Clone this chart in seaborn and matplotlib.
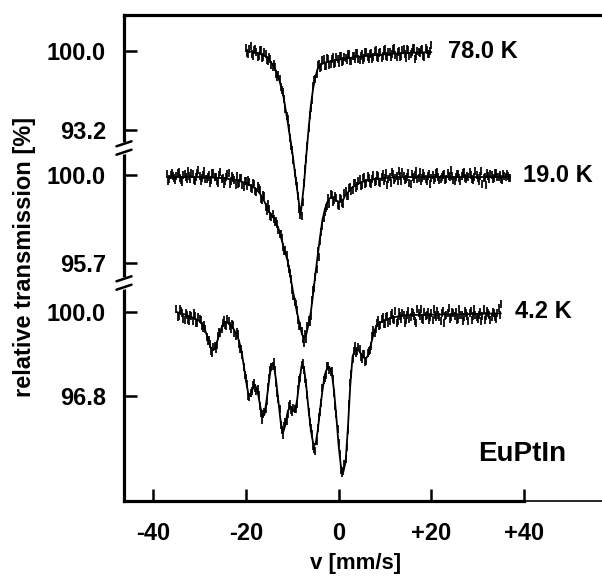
import numpy as np
import pandas as pd
import matplotlib
matplotlib.use("Agg")
import matplotlib.pyplot as plt
import matplotlib.transforms as mtransforms
import seaborn as sns

# velocity channels (mm/s) of the three spectra; the "b" grids sit half a step in between
V78 = np.arange(-20.0, 20.01, 0.5)
V78b = np.arange(-19.75, 19.76, 0.5)
V19 = np.arange(-37.0, 37.01, 0.5)
V19b = np.arange(-36.75, 36.76, 0.5)
V4 = np.arange(-35.0, 35.01, 0.5)
V4b = np.arange(-34.75, 34.76, 0.5)

T78 = [100.3, 99.7, 100.4, 99.6, 100.2, 99.5, 100.1, 99.4, 99.9, 99.2,
       99.5, 98.8, 98.9, 98.0, 97.9, 96.9, 96.5, 95.0, 94.1, 92.5,
       91.5, 89.5, 88.4, 86.4, 85.8, 88.6, 90.7, 93.4, 95.1, 97.0,
       97.6, 98.8, 98.5, 99.2, 98.7, 99.4, 98.8, 99.3, 98.9, 99.5,
       99.0, 99.6, 99.1, 99.4, 99.7, 99.1, 99.6, 99.3, 99.8, 99.2,
       99.7, 99.4, 99.9, 99.3, 99.8, 99.5, 100.1, 99.4, 99.9, 99.6,
       100.2, 99.5, 99.9, 99.7, 100.3, 99.5, 100.0, 99.6, 100.2, 99.4,
       100.1, 99.7, 100.3, 99.3, 100.0, 99.8, 100.2, 99.5, 100.1, 99.7,
       100.5]
T78b = [99.8, 100.2, 99.7, 100.1, 99.9, 99.55, 100.05, 99.5, 99.75, 99.1,
        99.3, 98.6, 98.6, 97.8, 97.6, 96.6, 95.9, 94.4, 93.4, 91.8,
        90.6, 88.8, 87.5, 85.9, 87.0, 89.8, 91.8, 94.5, 95.8, 97.5,
        98.0, 98.9, 98.6, 99.3, 98.75, 99.35, 98.9, 99.45, 99.0, 99.35,
        99.6, 99.05, 99.5, 99.2, 99.75, 99.15, 99.55, 99.85, 99.3, 99.6,
        99.25, 99.9, 99.45, 99.7, 99.35, 100.0, 99.5, 99.85, 99.4, 100.05,
        99.6, 99.9, 99.45, 100.15, 99.65, 99.95, 99.5, 100.1, 99.7, 100.2,
        99.6, 99.9, 100.25, 99.55, 99.95, 100.1, 99.6, 100.3, 99.75, 100.0]

T19 = [100.05, 99.8, 100.1, 99.85, 99.95, 100.15, 99.75, 100.0, 99.9, 100.2,
       99.8, 100.05, 99.7, 100.1, 99.95, 99.85, 100.2, 99.8, 100.0, 99.75,
       100.1, 99.9, 99.6, 100.15, 99.85, 99.7, 100.05, 99.55, 99.95, 99.75,
       99.95, 99.6, 99.85, 99.4, 99.7, 99.75, 99.35, 99.6, 99.2, 99.45,
       99.25, 98.8, 98.95, 98.25, 98.35, 97.95, 97.85, 97.75, 97.3, 97.1,
       96.5, 96.35, 95.7, 95.2, 94.4, 93.8, 93.4, 92.6, 92.4, 91.8,
       92.0, 92.9, 93.1, 94.4, 95.0, 96.3, 96.8, 97.5, 98.2, 98.5,
       98.6, 99.0, 98.8, 98.9, 98.5, 98.85, 98.6, 99.2, 98.95, 99.4,
       99.25, 99.6, 99.45, 99.8, 99.5, 99.9, 99.6, 99.85, 99.55, 100.0,
       99.7, 99.95, 99.6, 100.05, 99.85, 99.5, 99.9, 100.15, 99.75, 99.95,
       100.2, 99.7, 99.95, 99.8, 100.1, 99.55, 99.9, 100.0, 99.8, 100.15,
       99.85, 99.95, 99.7, 100.05, 99.85, 99.75, 100.1, 99.9, 99.8, 100.0,
       99.75, 100.1, 99.9, 99.95, 99.7, 100.05, 99.85, 99.95, 100.15, 99.8,
       99.9, 100.0, 99.75, 100.2, 99.85, 99.95, 99.55, 99.9, 100.1, 99.8,
       100.0, 99.85, 100.1, 99.9, 99.8, 100.05, 99.9, 99.95, 99.85]
T19b = [99.7, 100.0, 99.95, 99.75, 100.1, 99.85, 99.65, 100.05, 99.8, 99.95,
        100.1, 99.75, 99.9, 100.25, 99.7, 100.0, 99.8, 99.9, 99.6, 100.1,
        99.9, 99.7, 100.0, 99.8, 99.55, 99.9, 100.1, 99.7, 99.85, 99.5,
        99.55, 99.85, 99.5, 99.7, 99.45, 99.65, 99.3, 99.55, 99.15, 99.35,
        98.85, 99.0, 98.45, 98.6, 98.0, 98.1, 97.7, 97.6, 97.1, 96.9,
        96.3, 96.1, 95.4, 94.9, 94.1, 93.7, 92.9, 92.6, 92.0, 92.25,
        92.6, 92.8, 93.9, 94.5, 95.4, 96.0, 97.2, 97.9, 98.4, 98.9,
        99.05, 98.7, 98.95, 98.55, 98.9, 98.65, 99.1, 98.95, 99.35, 99.2,
        99.6, 99.35, 99.7, 99.45, 99.85, 99.55, 99.95, 99.6, 99.8, 99.65,
        100.0, 99.65, 99.9, 99.7, 100.1, 99.8, 99.6, 100.05, 99.85, 99.7,
        99.95, 100.15, 99.75, 99.9, 99.6, 100.05, 99.8, 100.2, 99.85, 99.7,
        100.1, 99.8, 99.95, 99.55, 100.0, 99.85, 100.15, 99.75, 99.9, 100.05,
        99.8, 99.95, 100.25, 99.75, 99.9, 100.05, 99.7, 100.1, 99.85, 99.95,
        100.15, 99.8, 99.9, 100.0, 99.7, 100.2, 99.85, 99.5, 99.95, 100.05,
        99.8, 100.1, 99.9, 100.0, 99.75, 99.95, 100.05, 99.85]

T4 = [100.1, 99.85, 100.05, 99.75, 99.95, 99.7, 99.9, 99.65, 99.85, 99.6,
      99.75, 99.45, 99.5, 99.05, 98.95, 98.5, 98.65, 98.6, 99.1, 99.2,
      99.6, 99.5, 99.75, 99.45, 99.55, 99.2, 99.25, 98.8, 98.6, 97.9,
      97.5, 96.8, 96.9, 97.2, 97.1, 97.05, 96.4, 95.9, 96.2, 96.6,
      97.5, 97.9, 98.1, 97.3, 96.7, 95.7, 95.3, 95.8, 96.1, 96.5,
      96.2, 96.3, 96.5, 97.4, 98.0, 97.8, 97.3, 96.2, 95.6, 94.9,
      94.7, 95.6, 96.2, 97.1, 97.5, 97.95, 97.8, 97.75, 96.9, 96.1,
      95.0, 94.0, 93.95, 94.4, 95.5, 97.3, 98.2, 98.7, 98.5, 98.6,
      98.2, 98.4, 98.15, 98.5, 98.7, 99.3, 99.35, 99.7, 99.5, 99.8,
      99.55, 99.85, 99.65, 99.95, 99.7, 99.6, 100.0, 99.75, 99.9, 99.7,
      100.05, 99.8, 99.95, 99.65, 100.1, 99.85, 99.75, 100.0, 99.9, 99.7,
      99.95, 100.1, 99.8, 99.9, 99.65, 100.05, 99.85, 99.95, 99.75, 100.0,
      99.85, 99.7, 100.1, 99.9, 99.8, 99.95, 99.65, 100.05, 99.85, 99.9,
      99.75, 100.0, 99.85, 99.7, 100.05, 99.9, 99.8, 99.95, 99.75, 100.15,
      100.3]
T4b = [99.8, 100.1, 99.95, 99.7, 99.9, 99.65, 99.85, 99.95, 99.6, 99.8,
       99.7, 99.4, 99.35, 98.9, 98.8, 98.45, 98.7, 98.75, 99.25, 99.35,
       99.7, 99.45, 99.65, 99.35, 99.5, 99.1, 99.15, 98.6, 98.35, 97.6,
       97.25, 96.75, 97.0, 97.3, 97.0, 96.85, 96.15, 96.1, 96.3, 97.15,
       97.8, 97.95, 97.8, 96.9, 96.3, 95.5, 95.65, 95.85, 96.4, 96.25,
       96.35, 96.3, 97.05, 97.5, 98.05, 97.45, 96.85, 95.8, 95.35, 94.8,
       95.1, 96.0, 96.55, 97.4, 97.6, 97.95, 97.7, 97.45, 96.4, 95.55,
       94.6, 93.85, 94.2, 94.85, 96.5, 97.65, 98.5, 98.45, 98.65, 98.3,
       98.4, 98.1, 98.45, 98.55, 99.1, 99.2, 99.6, 99.45, 99.75, 99.55,
       99.8, 99.6, 99.9, 99.75, 100.05, 99.65, 99.85, 99.95, 99.6, 99.9,
       99.75, 100.0, 99.85, 99.6, 99.95, 100.1, 99.7, 99.85, 100.0, 99.8,
       99.7, 99.9, 100.05, 99.8, 99.95, 99.6, 99.9, 100.15, 99.8, 99.95,
       100.0, 99.75, 99.9, 99.65, 100.05, 99.85, 99.95, 99.7, 100.1, 99.8,
       99.9, 99.65, 100.1, 99.85, 99.95, 99.7, 100.0, 99.8, 99.95, 99.9]

# fitted curves (v, T)
FIT78 = [(-20, 100.0), (-18, 99.9), (-16, 99.6), (-15, 99.25), (-14, 98.7),
         (-13, 97.75), (-12, 96.3), (-11, 93.9), (-10, 91.3), (-9.5, 89.7),
         (-9, 88.2), (-8.5, 86.7), (-8.2, 85.9), (-7.5, 88.4), (-7, 90.9),
         (-6.5, 93.2), (-6, 95.3), (-5.5, 96.8), (-5, 97.8), (-4.5, 98.5),
         (-4, 98.8), (-3, 99.0), (-2, 99.1), (0, 99.25), (4, 99.5),
         (8, 99.65), (12, 99.78), (16, 99.85), (20, 99.9)]

FIT19 = [(-37, 99.9), (-30, 99.9), (-25, 99.85), (-22, 99.75), (-20, 99.6),
         (-18, 99.35), (-17, 99.1), (-16, 98.7), (-15, 98.2), (-14, 97.9),
         (-13, 97.4), (-12, 96.6), (-11, 95.8), (-10, 94.5), (-9, 93.3),
         (-8, 92.3), (-7.5, 92.0), (-7, 92.2), (-6.5, 92.7), (-6, 93.3),
         (-5.5, 94.2), (-5, 95.2), (-4.5, 96.1), (-4, 97.0), (-3.5, 97.8),
         (-3, 98.3), (-2.5, 98.65), (-2, 98.85), (-1.5, 98.9), (-1, 98.85),
         (-0.5, 98.75), (0, 98.7), (0.5, 98.7), (1, 98.8), (1.5, 99.05),
         (2, 99.15), (2.5, 99.3), (3, 99.4), (4, 99.55), (5, 99.65),
         (6, 99.72), (8, 99.8), (10, 99.85), (13, 99.9), (20, 99.9),
         (30, 99.9), (37, 99.9)]

FIT4 = [(-35, 100.0), (-33, 99.9), (-31, 99.75), (-30, 99.65), (-29.5, 99.55),
        (-29, 99.4), (-28.5, 99.15), (-28, 98.85), (-27.5, 98.6), (-27, 98.55),
        (-26.5, 98.7), (-26, 99.0), (-25.5, 99.3), (-25, 99.5), (-24.5, 99.6),
        (-24, 99.6), (-23, 99.45), (-22, 99.15), (-21.5, 98.9), (-21, 98.55),
        (-20.5, 98.0), (-20, 97.4), (-19.5, 96.9), (-19, 96.8), (-18.5, 97.1),
        (-18, 97.2), (-17.5, 97.0), (-17, 96.5), (-16.5, 96.0), (-16, 96.1),
        (-15.5, 96.7), (-15, 97.4), (-14.5, 98.0), (-14, 98.0), (-13.5, 97.4),
        (-13, 96.6), (-12.5, 95.8), (-12, 95.4), (-11.5, 95.7), (-11, 96.2),
        (-10.5, 96.4), (-10, 96.3), (-9.5, 96.2), (-9, 96.6), (-8.5, 97.3),
        (-8, 97.95), (-7.5, 97.9), (-7, 97.2), (-6.5, 96.3), (-6, 95.5),
        (-5.5, 95.0), (-5, 94.95), (-4.5, 95.5), (-4, 96.3), (-3.5, 97.0),
        (-3, 97.6), (-2.5, 97.85), (-2, 97.9), (-1.5, 97.7), (-1, 97.0),
        (-0.5, 96.0), (0, 94.9), (0.5, 94.1), (1, 93.9), (1.5, 94.3),
        (2, 95.6), (2.5, 97.2), (3, 98.3), (3.5, 98.55), (4, 98.6),
        (4.5, 98.5), (5, 98.35), (5.5, 98.25), (6, 98.25), (6.5, 98.4),
        (7, 98.8), (7.5, 99.15), (8, 99.4), (8.5, 99.55), (9, 99.6),
        (10, 99.7), (12, 99.8), (14, 99.88), (20, 99.9), (28, 99.92), (35, 99.95)]

LABELS = ["78.0 K", "19.0 K", "4.2 K"]
LOW_TICKS = [93.2, 95.7, 96.8]

# stacking: pixel row of the 100 % line and pixels per percent
BASE = [51, 175, 312]
SCALE = [11.6, 20.47, 26.25]
LABEL_V = [23.6, 39.8, 38.0]

sns.set_style("ticks")
plt.rcParams["font.family"] = ["Liberation Sans", "DejaVu Sans"]
plt.rcParams.update({"font.weight": "bold", "text.color": "black",
                     "axes.labelcolor": "black", "xtick.color": "black",
                     "ytick.color": "black", "axes.edgecolor": "black"})

fig = plt.figure(figsize=(6.02, 5.78), dpi=100)
ax = fig.add_axes([124 / 602, 77 / 578, 478 / 602, 486 / 578])

spectra = [(V78, T78, V78b, T78b, FIT78), (V19, T19, V19b, T19b, FIT19),
           (V4, T4, V4b, T4b, FIT4)]
yticks, ylabels = [], []
for i, (v, t, vb, tb, fit) in enumerate(spectra):
    assert len(v) == len(t) and len(vb) == len(tb)
    b, k = BASE[i], SCALE[i]
    d = pd.DataFrame({"v": np.concatenate([v, vb]),
                      "y": b + (100 - np.asarray(t + tb)) * k})
    fv, ft = zip(*fit)
    f = pd.DataFrame({"v": fv, "y": b + (100 - np.asarray(ft)) * k})
    sns.scatterplot(data=d, x="v", y="y", marker="|", s=40, color="black",
                    linewidth=1.25, ax=ax, zorder=3)
    sns.lineplot(data=f, x="v", y="y", color="black", lw=1.3, sort=False,
                 estimator=None, ax=ax, zorder=4)
    ax.text(LABEL_V[i], b, LABELS[i], fontsize=17, fontweight="bold",
            ha="left", va="center")
    yticks += [b, b + (100 - LOW_TICKS[i]) * k]
    ylabels += ["100.0", f"{LOW_TICKS[i]:.1f}"]

ax.text(30.1, 454, "EuPtIn", fontsize=20, fontweight="bold", ha="left", va="center")

ax.set_xlim(-46.3, 56.8)
ax.set_ylim(501, 15)
ax.set_xticks([-40, -20, 0, 20, 40])
ax.set_xticklabels(["-40", "-20", "0", "+20", "+40"])
ax.set_yticks(yticks)
ax.set_yticklabels(ylabels)
ax.tick_params(direction="in", length=9, width=1.8, labelsize=17,
               bottom=True, left=True, top=False, right=False)
ax.tick_params(axis="x", pad=15)
ax.tick_params(axis="y", pad=13)

ax.set_xlabel("v [mm/s]", fontsize=16, fontweight="bold", va="center")
ax.xaxis.set_label_coords(0.485, -0.128)
ax.set_ylabel("relative transmission [%]", fontsize=17, fontweight="bold",
              va="center")
ax.yaxis.set_label_coords(-0.209, 0.502)

for side in ["left", "top", "bottom"]:
    ax.spines[side].set_linewidth(2.3)
    ax.spines[side].set_color("black")
ax.spines["right"].set_visible(False)
ax.spines["bottom"].set_bounds(-46.3, 40)
ax.plot([40, 56.8], [501, 501], color="black", lw=1.2, clip_on=False)

# axis breaks on the left spine
tr = mtransforms.blended_transform_factory(ax.transAxes, ax.transData)
for y0 in [148, 283]:
    ax.plot([0, 0], [y0 - 3.5, y0 + 3.5], color="white", lw=4, transform=tr,
            clip_on=False, zorder=5)
    for dy in [-4.2, 4.2]:
        ax.plot([-0.0157, 0.0157], [y0 + dy + 2.5, y0 + dy - 2.5], color="black",
                lw=1.8, transform=tr, clip_on=False, zorder=6)

fig.savefig("out.png", dpi=100)
